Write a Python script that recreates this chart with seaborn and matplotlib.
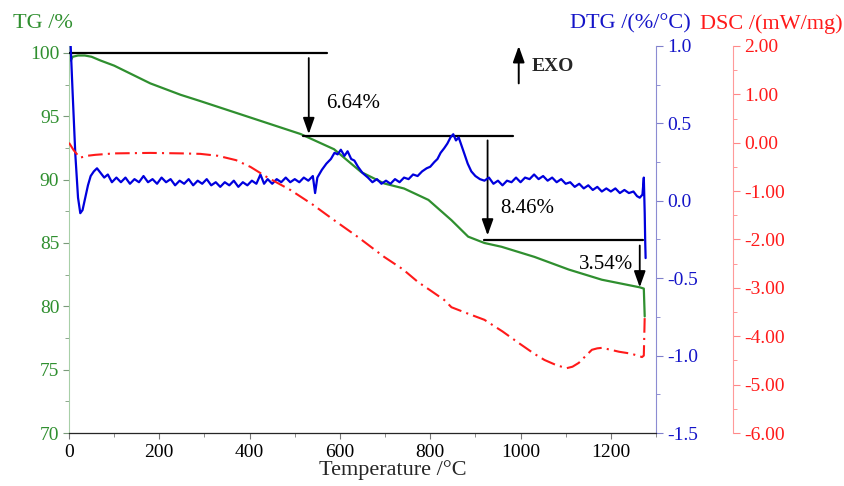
import matplotlib
matplotlib.use("Agg")
import pandas as pd
import matplotlib.pyplot as plt
import seaborn as sns
from matplotlib.ticker import MultipleLocator, FormatStrFormatter

# TG curve (%)
tg_temp = [0, 4, 8, 20, 35, 50, 70, 100, 180, 247, 291, 402, 513, 587, 647, 698,
           742, 796, 847, 884, 920, 958, 1031, 1107, 1180, 1264, 1273, 1275]
tg_val = [99.9, 99.4, 99.7, 99.8, 99.8, 99.7, 99.4, 99.0, 97.6, 96.7, 96.2, 94.9,
          93.6, 92.4, 90.6, 89.7, 89.3, 88.4, 86.8, 85.5, 85.0, 84.7, 83.9, 82.9,
          82.1, 81.5, 81.4, 79.2]

# DTG curve (%/°C)
dtg_temp = [3, 8, 14, 20, 25, 30, 36, 42, 48, 55,
            62, 70, 78, 86, 95, 105, 115, 125, 135, 145,
            155, 165, 175, 185, 195, 205, 215, 225, 235, 245,
            255, 265, 275, 285, 295, 305, 315, 325, 335, 345,
            355, 365, 375, 385, 395, 405, 415, 424, 432, 440,
            450, 460, 470, 480, 490, 500, 510, 520, 530, 540,
            545, 550, 560, 570, 580, 588, 595, 602, 610, 617,
            625, 632, 640, 650, 662, 672, 682, 692, 702, 712,
            722, 732, 742, 752, 762, 772, 782, 792, 800, 809,
            816, 823, 831, 838, 845, 851, 857, 863, 869, 876,
            883, 891, 900, 910, 920, 930, 940, 950, 960, 970,
            980, 990, 1000, 1010, 1020, 1030, 1040, 1050, 1060, 1070,
            1080, 1090, 1100, 1110, 1120, 1130, 1140, 1150, 1160, 1170,
            1180, 1190, 1200, 1210, 1220, 1230, 1240, 1250, 1258, 1264,
            1270, 1273, 1275, 1276, 1277]
dtg_val = [1.05, 0.70, 0.30, 0.02, -0.08, -0.06, 0.02, 0.10, 0.16, 0.19,
           0.21, 0.18, 0.15, 0.17, 0.12, 0.15, 0.12, 0.15, 0.11, 0.14,
           0.12, 0.16, 0.12, 0.14, 0.11, 0.15, 0.12, 0.14, 0.10, 0.13,
           0.11, 0.14, 0.10, 0.13, 0.11, 0.14, 0.10, 0.12, 0.09, 0.12,
           0.10, 0.13, 0.09, 0.12, 0.10, 0.13, 0.11, 0.17, 0.11, 0.14,
           0.11, 0.14, 0.12, 0.15, 0.12, 0.14, 0.12, 0.15, 0.13, 0.16,
           0.05, 0.15, 0.20, 0.24, 0.27, 0.31, 0.30, 0.33, 0.29, 0.32,
           0.27, 0.26, 0.22, 0.18, 0.15, 0.12, 0.14, 0.11, 0.13, 0.11,
           0.14, 0.12, 0.15, 0.14, 0.17, 0.16, 0.19, 0.21, 0.22, 0.25,
           0.27, 0.31, 0.34, 0.37, 0.41, 0.43, 0.39, 0.41, 0.36, 0.30,
           0.24, 0.19, 0.16, 0.14, 0.13, 0.15, 0.11, 0.13, 0.10, 0.13,
           0.12, 0.15, 0.12, 0.15, 0.14, 0.17, 0.14, 0.16, 0.13, 0.15,
           0.12, 0.14, 0.11, 0.12, 0.09, 0.11, 0.08, 0.10, 0.07, 0.09,
           0.06, 0.08, 0.06, 0.08, 0.05, 0.07, 0.05, 0.06, 0.03, 0.02,
           0.04, 0.15, -0.08, -0.25, -0.37]

# DSC curve (mW/mg)
dsc_temp = [0, 10, 24, 40, 58, 100, 180, 250, 291, 330, 370, 402, 440, 491,
            540, 587, 640, 698, 740, 773, 800, 831, 847, 880, 920, 960, 996,
            1030, 1053, 1080, 1102, 1115, 1129, 1145, 1158, 1170, 1180, 1200,
            1218, 1245, 1269, 1273, 1275]
dsc_val = [0.00, -0.15, -0.31, -0.27, -0.25, -0.22, -0.21, -0.22, -0.23, -0.27,
           -0.36, -0.50, -0.72, -0.98, -1.28, -1.60, -1.95, -2.36, -2.62, -2.88,
           -3.05, -3.25, -3.40, -3.52, -3.66, -3.90, -4.14, -4.36, -4.49, -4.60,
           -4.66, -4.63, -4.55, -4.40, -4.28, -4.25, -4.24, -4.28, -4.32, -4.36,
           -4.43, -4.40, -3.60]

# mass-loss steps: level lines (TG, T start, T end), arrows (T, TG from, TG to)
step_levels = [100.0, 93.45, 85.2]
step_starts = [0, 518, 920]
step_ends = [571, 984, 1271]
arrow_temp = [531, 927, 1264]
arrow_from = [99.6, 93.1, 84.8]
arrow_to = [93.6, 85.6, 81.5]
step_labels = ["6.64%", "8.46%", "3.54%"]
label_temp = [569, 956, 1129]
label_tg = [96.05, 87.7, 83.3]

GREEN = "#2f8f2f"
BLUE = "#0000dd"
RED = "#ff1a1a"

sns.set_style("ticks")
plt.rcParams["font.family"] = ["Liberation Serif", "DejaVu Serif"]
plt.rcParams["axes.unicode_minus"] = False
plt.rcParams["font.size"] = 14

fig = plt.figure(figsize=(8.45, 4.86), dpi=100)
ax = fig.add_axes([69 / 845, 1 - 433 / 486, 587 / 845, 387 / 486])
ax2 = ax.twinx()
ax3 = ax.twinx()

tg = pd.DataFrame({"T": tg_temp, "TG": tg_val})
dtg = pd.DataFrame({"T": dtg_temp, "DTG": dtg_val})
dsc = pd.DataFrame({"T": dsc_temp, "DSC": dsc_val})

sns.lineplot(data=tg, x="T", y="TG", ax=ax, color=GREEN, lw=1.6,
             sort=False, estimator=None)
sns.lineplot(data=dtg, x="T", y="DTG", ax=ax2, color=BLUE, lw=1.6,
             sort=False, estimator=None)
sns.lineplot(data=dsc, x="T", y="DSC", ax=ax3, color=RED, lw=1.5,
             sort=False, estimator=None, linestyle=(0, (7, 2.5, 1, 2.5)))

ax.set_xlim(0, 1300)
ax.set_ylim(70, 100.55)
ax2.set_ylim(-1.5, 1.0)
ax3.set_ylim(-6, 2)

# spines
for a in (ax, ax2, ax3):
    a.spines["top"].set_visible(False)
ax.spines["right"].set_visible(False)
ax2.spines["left"].set_visible(False)
ax3.spines["left"].set_visible(False)
ax.spines["left"].set_color("#a8cfa8")
ax.spines["bottom"].set_color("#8a8a8a")
ax2.spines["right"].set_color("#8c8cd2")
ax3.spines["right"].set_color("#ff9a9a")
ax3.spines["right"].set_position(("axes", (733 - 69) / 587))

ax.xaxis.set_major_locator(MultipleLocator(200))
ax.xaxis.set_minor_locator(MultipleLocator(100))
ax.yaxis.set_major_locator(MultipleLocator(5))
ax.yaxis.set_minor_locator(MultipleLocator(2.5))
ax2.yaxis.set_major_locator(MultipleLocator(0.5))
ax2.yaxis.set_minor_locator(MultipleLocator(0.25))
ax2.yaxis.set_major_formatter(FormatStrFormatter("%.1f"))
ax3.yaxis.set_major_locator(MultipleLocator(1))
ax3.yaxis.set_minor_locator(MultipleLocator(0.5))
ax3.yaxis.set_major_formatter(FormatStrFormatter("%.2f"))

ax.tick_params(axis="x", which="both", direction="out", color="#777777",
               labelcolor="black", labelsize=14, pad=4)
ax.tick_params(axis="x", which="major", length=4)
ax.tick_params(axis="x", which="minor", length=3)
ax.tick_params(axis="y", which="both", direction="out", color="#7a9a7a",
               labelcolor=GREEN, labelsize=14, pad=3)
ax.tick_params(axis="y", which="major", length=4)
ax.tick_params(axis="y", which="minor", length=3)
ax2.tick_params(axis="y", which="both", direction="out", color="#8080cc",
                labelcolor="#1414c8", labelsize=14, pad=3)
ax2.tick_params(axis="y", which="major", length=5)
ax2.tick_params(axis="y", which="minor", length=3)
ax3.tick_params(axis="y", which="both", direction="out", color="#ff8888",
                labelcolor=RED, labelsize=14, pad=3)
ax3.tick_params(axis="y", which="major", length=5)
ax3.tick_params(axis="y", which="minor", length=3)

ax.set_xlabel("Temperature /°C", fontsize=16, va="top")
ax.xaxis.set_label_coords(0.552, -0.07)
ax.set_ylabel("")
ax2.set_ylabel("")
ax3.set_ylabel("")

fig.text(13 / 845, 1 - 24 / 486, "TG /%", color=GREEN, fontsize=16,
         ha="left", va="center")
fig.text(570 / 845, 1 - 24 / 486, "DTG /(%/°C)", color="#1414c8", fontsize=16,
         ha="left", va="center")
fig.text(843 / 845, 1 - 24 / 486, "DSC /(mW/mg)", color=RED, fontsize=16,
         ha="right", va="center")

# mass-loss steps
for lvl, t0, t1 in zip(step_levels, step_starts, step_ends):
    ax.plot([t0, t1], [lvl, lvl], color="black", lw=1.6, zorder=5)
for t, y0, y1 in zip(arrow_temp, arrow_from, arrow_to):
    ax.annotate("", xy=(t, y1), xytext=(t, y0),
                arrowprops=dict(arrowstyle="-|>,head_length=0.7,head_width=0.25",
                                color="black", lw=1.3, shrinkA=0, shrinkB=0,
                                mutation_scale=14))
for lab, t, y in zip(step_labels, label_temp, label_tg):
    ax.text(t, y, lab, fontsize=15, ha="left", va="center", color="black")

# EXO marker
ax.annotate("", xy=(996, 100.55), xytext=(996, 97.6),
            arrowprops=dict(arrowstyle="-|>,head_length=0.7,head_width=0.25",
                            color="black", lw=1.4, shrinkA=0, shrinkB=0,
                            mutation_scale=14), annotation_clip=False)
ax.text(1025, 98.95, "EXO", fontsize=14, fontweight="bold", ha="left",
        va="center")

fig.savefig("out.png", dpi=100)
